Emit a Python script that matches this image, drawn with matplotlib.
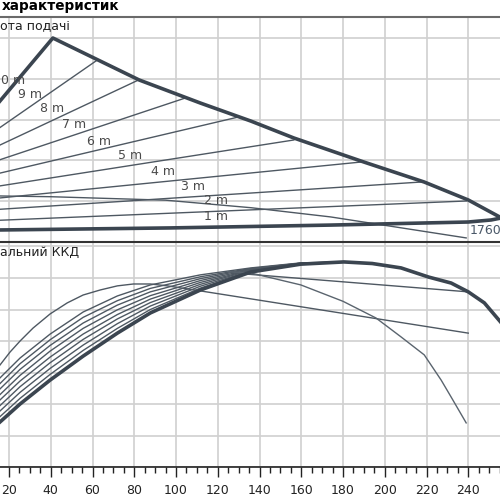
import numpy as np
import matplotlib.pyplot as plt
from matplotlib.ticker import MultipleLocator

# -- top panel: proportional pressure lines (start head, end flow, end head)
heads = ['10 m', '9 m', '8 m', '7 m', '6 m', '5 m', '4 m', '3 m', '2 m']
h_start = [5.0, 4.5, 4.0, 3.5, 3.0, 2.5, 2.0, 1.5, 1.0]
q_end = [41.0, 62.3, 82.0, 104.5, 130.0, 156.4, 188.6, 217.4, 239.0]
h_end = [10.0, 8.92, 7.94, 7.06, 6.13, 5.0, 3.92, 2.94, 2.01]

# max curve (upper envelope)
q_max = [41.0, 63.7, 82.4, 111.7, 135.8, 156.4, 190.0, 218.9, 240.0, 255.9]
h_max = [10.0, 8.87, 7.94, 6.81, 5.93, 5.10, 3.92, 2.94, 2.06, 1.18]

# 1 m curve (lower envelope)
q_min = [0, 15.7, 97.3, 174.2, 240.0, 251.0, 255.9]
h_min = [0.5, 0.59, 0.69, 0.83, 0.98, 1.08, 1.18]

# 1760 curve
q_1760 = [0, 40, 95, 136, 174, 210, 239]
h_1760 = [2.28, 2.22, 2.05, 1.68, 1.23, 0.66, 0.2]

# label positions (the "10 m" label is cut by the frame, only "0 m" shows)
lab_x = [16.0, 30.1, 40.7, 51.2, 63.2, 78.1, 94.0, 107.9, 119.0, 119.0]
lab_y = [7.94, 7.25, 6.52, 5.74, 4.95, 4.26, 3.48, 2.70, 2.01, 1.23]
lab_txt = ['0 m', '9 m', '8 m', '7 m', '6 m', '5 m', '4 m', '3 m', '2 m', '1 m']

# -- bottom panel: efficiency curves
q_eta = [15.7, 25.3, 39.7, 55.5, 71.9, 87.7, 111.7, 135.8, 159.8, 180.4,
         194.0, 207.8, 221.0, 231.8, 240.0, 247.7, 255.9]
eta_max = [14.3, 20.0, 27.6, 35.2, 42.5, 48.9, 56.2, 61.9, 64.4, 65.1,
           64.6, 63.2, 60.3, 58.4, 55.6, 52.1, 45.7]

# first (upper-left) curve, then straight tail
q_a = [15.7, 20.5, 25.3, 31.5, 39.7, 47.9, 55.5, 63.7, 71.9, 79.6, 87.7,
       95.9, 111.7, 240.0]
eta_a = [32.4, 36.5, 40.0, 44.1, 48.6, 52.1, 54.6, 56.2, 57.5, 58.1, 58.1,
         57.5, 55.9, 42.5]

# family of thin curves that merge into the max curve
q_fam = [15.7, 25.3, 39.7, 55.5, 71.9, 87.7, 111.7, 135.8, 159.8, 180.4]
eta_fam = [
    [28.3, 34.6, 42.2, 49.2, 54.3, 57.8, 61.0, 63.2, 64.8, 65.1],
    [26.5, 32.8, 40.4, 47.5, 52.8, 56.7, 60.4, 63.0, 64.7, 65.1],
    [24.8, 31.0, 38.6, 45.7, 51.4, 55.6, 59.8, 62.9, 64.7, 65.1],
    [23.0, 29.1, 36.8, 44.0, 49.9, 54.4, 59.2, 62.7, 64.6, 65.1],
    [21.3, 27.3, 34.9, 42.2, 48.4, 53.3, 58.6, 62.5, 64.6, 65.1],
    [19.5, 25.5, 33.1, 40.5, 47.0, 52.2, 58.0, 62.4, 64.6, 65.1],
    [17.8, 23.7, 31.3, 38.7, 45.5, 51.1, 57.4, 62.2, 64.5, 65.1],
    [16.0, 21.8, 29.4, 37.0, 44.0, 50.0, 56.8, 62.1, 64.5, 65.1],
]

# straight line to the max curve at 240 and the falling curve
q_line = [127.0, 240.0]
eta_line = [61.6, 55.6]
q_fall = [125.0, 135.8, 159.8, 180.0, 195.8, 207.8, 218.9, 227.0, 231.8, 239.0]
eta_fall = [62.0, 61.6, 57.8, 52.6, 47.3, 41.3, 35.6, 27.6, 22.2, 14.0]

thick = '#3b4550'
thin = '#4e5862'
grid_c = '#d0d0d0'

fig = plt.figure(figsize=(5, 5), dpi=100)
ax1 = fig.add_axes([0, 1 - 242 / 500, 1, 225 / 500])
ax2 = fig.add_axes([0, 1 - 467 / 500, 1, 225 / 500])

xlim = (15.68, 255.2)
for ax in (ax1, ax2):
    ax.set_xlim(*xlim)
    ax.xaxis.set_major_locator(MultipleLocator(20))
    ax.grid(True, color=grid_c, lw=1.2)
    ax.set_axisbelow(True)
    ax.spines['left'].set_visible(False)
    ax.spines['right'].set_visible(False)
    ax.tick_params(left=False, labelleft=False)

# top panel
ax1.set_ylim(0, 225 / 20.4)
ax1.yaxis.set_major_locator(MultipleLocator(2))
ax1.tick_params(bottom=False, labelbottom=False)
ax1.spines['top'].set_color('#6a6a6a')
ax1.spines['top'].set_linewidth(1.5)
ax1.spines['bottom'].set_visible(False)

for i in range(1, len(heads)):
    ax1.plot([0, q_end[i]], [h_start[i], h_end[i]], color=thin, lw=1.0)
ax1.plot(q_1760, h_1760, color=thin, lw=1.0)
ax1.plot([0] + q_max, [h_start[0]] + h_max, color=thick, lw=2.6, solid_joinstyle='round')
ax1.plot(q_min, h_min, color=thick, lw=2.6, solid_joinstyle='round')

for x, y, s in zip(lab_x, lab_y, lab_txt):
    ax1.text(x, y, s, fontsize=9, color='#4a4a4a', va='center',
             ha='left' if s == '0 m' else 'center')
ax1.text(240.5, 0.55, '1760', fontsize=9, color='#4a5868', ha='left', va='center')
ax1.text(0.0, 1 - 27 / 500, 'ота подачі', transform=fig.transFigure,
         fontsize=9, color='#222222', ha='left', va='center')

# bottom panel
ax2.set_ylim(0, 225 / 3.15)
ax2.yaxis.set_major_locator(MultipleLocator(10))
ax2.xaxis.set_minor_locator(MultipleLocator(5))
ax2.spines['top'].set_color('#333333')
ax2.spines['top'].set_linewidth(1.5)
ax2.spines['bottom'].set_color('#222222')
ax2.spines['bottom'].set_linewidth(1.2)
ax2.tick_params(axis='x', which='major', length=7, width=1, pad=5,
                labelsize=9, colors='#222222')
ax2.tick_params(axis='x', which='minor', length=4, width=1, colors='#222222')

for e in eta_fam:
    ax2.plot(q_fam, e, color=thin, lw=1.0)
ax2.plot(q_a, eta_a, color=thin, lw=1.0)
ax2.plot(q_line, eta_line, color=thin, lw=1.0)
ax2.plot(q_fall, eta_fall, color='#5a646e', lw=1.0)
ax2.plot(q_eta, eta_max, color=thick, lw=2.6)
ax2.text(0.0, 1 - 252 / 500, 'альний ККД', transform=fig.transFigure,
         fontsize=9, color='#222222', ha='left', va='center')

fig.text(0.004, 1 - 6 / 500, 'характеристик', fontsize=9.8, fontweight='bold',
         ha='left', va='center')

fig.savefig('out.png', dpi=100)
